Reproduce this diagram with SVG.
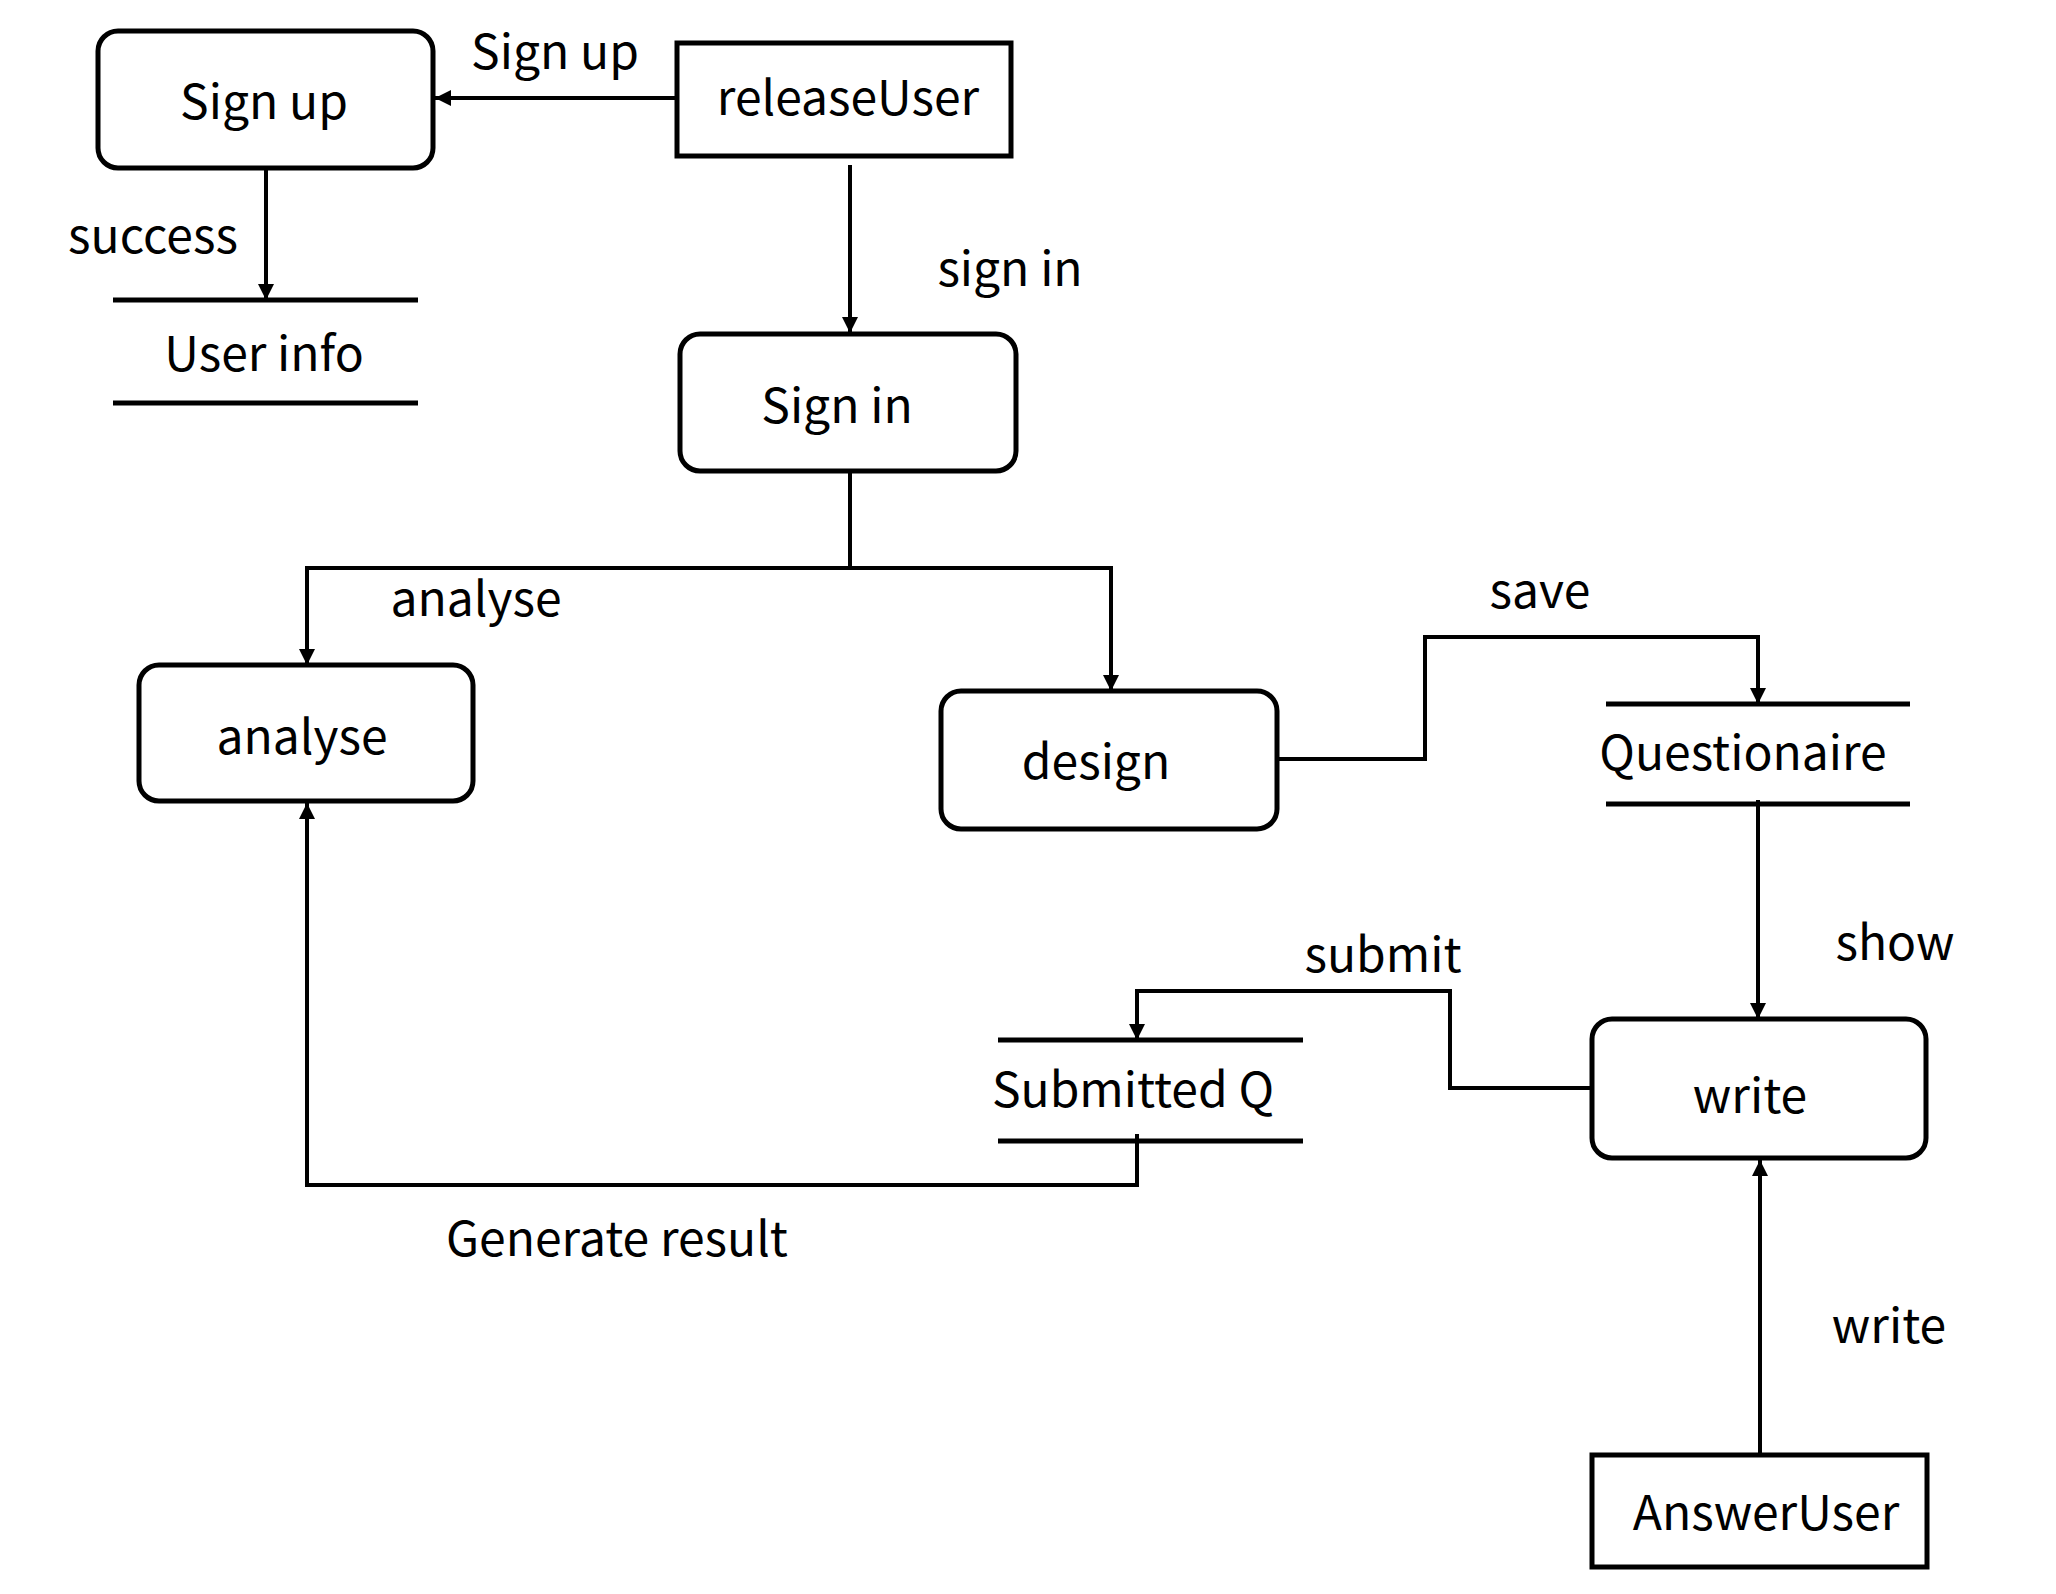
<svg xmlns="http://www.w3.org/2000/svg" width="2056" height="1594" viewBox="0 0 2056 1594">
<style>
text{font-family:"Noto Sans CJK SC","Noto Sans",sans-serif;font-size:48px;fill:#000;text-anchor:middle}
.proc{fill:#fff;stroke:#000;stroke-width:5}
.ext{fill:#fff;stroke:#000;stroke-width:5}
.store{stroke:#000;stroke-width:5}
.conn{fill:none;stroke:#000;stroke-width:4;marker-end:url(#arr)}
</style>
<defs>
<marker id="arr" viewBox="0 0 10 10" refX="10" refY="5" markerWidth="4" markerHeight="5" orient="auto" markerUnits="strokeWidth">
<path d="M0,0 L10,5 L0,10 z" fill="#000"/>
</marker>
</defs>
<rect width="2056" height="1594" fill="#fff"/>
<g id="connectors">
<path class="conn" d="M677,98 H435"/>
<path class="conn" d="M266,168 V300"/>
<path class="conn" d="M850,165 V333"/>
<path class="conn" d="M850,471 V568 H307 V665"/>
<path class="conn" d="M850,568 H1111 V691"/>
<path class="conn" d="M1277,759 H1425 V637 H1758 V704"/>
<path class="conn" d="M1758,800 V1019"/>
<path class="conn" d="M1592,1088 H1450 V991 H1137 V1040"/>
<path class="conn" d="M1137,1134 V1185 H307 V803"/>
<path class="conn" d="M1760,1455 V1160"/>
</g>
<g id="signup">
<rect class="proc" x="98" y="31" width="335" height="137" rx="20"/>
<text x="264" y="119">Sign up</text>
</g>
<g id="releaseUser">
<rect class="ext" x="677" y="43" width="334" height="113"/>
<text x="848" y="115">releaseUser</text>
</g>
<g id="userinfo">
<line class="store" x1="113" y1="300" x2="418" y2="300"/>
<line class="store" x1="113" y1="403" x2="418" y2="403"/>
<text x="264" y="371">User info</text>
</g>
<g id="signin">
<rect class="proc" x="680" y="334" width="336" height="137" rx="20"/>
<text x="837" y="423">Sign in</text>
</g>
<g id="analyse">
<rect class="proc" x="139" y="665" width="334" height="136" rx="20"/>
<text x="302" y="754">analyse</text>
</g>
<g id="design">
<rect class="proc" x="941" y="691" width="336" height="138" rx="20"/>
<text x="1096" y="779">design</text>
</g>
<g id="questionaire">
<line class="store" x1="1606" y1="704" x2="1910" y2="704"/>
<line class="store" x1="1606" y1="804" x2="1910" y2="804"/>
<text x="1743" y="770">Questionaire</text>
</g>
<g id="write">
<rect class="proc" x="1592" y="1019" width="334" height="139" rx="20"/>
<text x="1750" y="1113">write</text>
</g>
<g id="submittedq">
<line class="store" x1="998" y1="1040" x2="1303" y2="1040"/>
<line class="store" x1="998" y1="1141" x2="1303" y2="1141"/>
<text x="1133" y="1107">Submitted Q</text>
</g>
<g id="answeruser">
<rect class="ext" x="1592" y="1455" width="335" height="112"/>
<text x="1766" y="1530">AnswerUser</text>
</g>
<g id="labels">
<text x="555" y="69">Sign up</text>
<text x="153" y="253">success</text>
<text x="1010" y="286">sign in</text>
<text x="476" y="616">analyse</text>
<text x="1540" y="608">save</text>
<text x="1895" y="960">show</text>
<text x="1383" y="972">submit</text>
<text x="617" y="1256">Generate result</text>
<text x="1889" y="1343">write</text>
</g>
</svg>
